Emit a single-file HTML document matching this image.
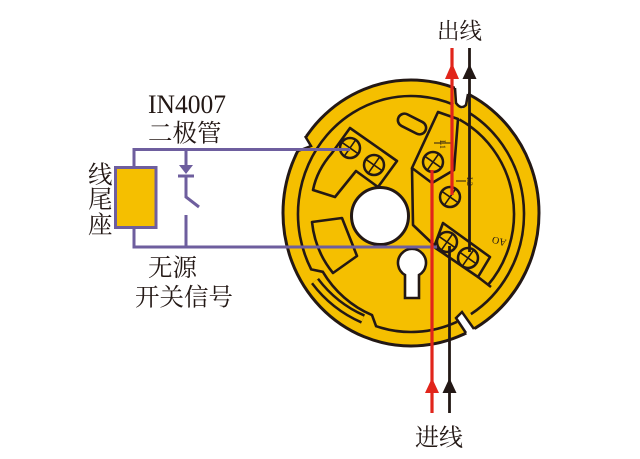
<!DOCTYPE html>
<html><head><meta charset="utf-8">
<style>
html,body{margin:0;padding:0;background:#fff;}
svg{display:block;}
.t{font-family:"Liberation Serif","Noto Serif CJK SC","Noto Serif CJK JP",serif;}
</style></head>
<body>
<svg width="640" height="459" viewBox="0 0 640 459" xmlns="http://www.w3.org/2000/svg">
<defs>
 <g id="screw">
  <circle r="10" fill="#F5BF00" stroke="#231815" stroke-width="2.5"/>
  <g transform="rotate(35)" stroke="#231815" stroke-width="1.6">
   <line x1="-9.5" y1="0" x2="9.5" y2="0"/>
   <line x1="0" y1="-9.5" x2="0" y2="9.5"/>
  </g>
 </g>
</defs>

<!-- disc -->
<ellipse cx="411" cy="213" rx="128" ry="133" fill="#F5BF00" stroke="#231815" stroke-width="3"/>

<!-- ring lines -->
<g fill="none" stroke="#231815" stroke-width="2.6">
 <path d="M469.2,112.9 A113,118 0 0 1 470.9,314.1"/>
 <path d="M457,321.8 A113,118 0 0 1 376.1,326.2 L372,315.1 A104,109 0 0 1 322.8,271.8 L311.2,269.4 A113,118 0 0 1 453.3,104.6"/>
 <path d="M459.4,119.5 A103,107 0 0 1 487.5,285.6"/>
</g>

<!-- bottom-left thin slot -->
<path d="M315,281 A120,125 0 0 0 363,319" fill="none" stroke="#231815" stroke-width="10"/>
<path d="M315,281 A120,125 0 0 0 363,319" fill="none" stroke="#F5BF00" stroke-width="5"/>

<!-- notches -->
<polygon points="455,76 455,100 458,106 462,109 466,106 468,100 468,76" fill="#fff"/>
<path d="M455,88 L456,103 Q461,110 466,105 L468,94" fill="none" stroke="#231815" stroke-width="2.5"/>
<polygon points="474,329 462,312 456,318 466,333 472,340 480,332" fill="#fff"/>
<path d="M474,329 L462,312 L456,318 L466,333" fill="none" stroke="#231815" stroke-width="2.5"/>
<polygon points="305,135 311,146 298,151 292,142" fill="#fff"/>
<path d="M305,136 L311,146 L298,151" fill="none" stroke="#231815" stroke-width="2.5"/>

<!-- inner shapes -->
<g fill="none" stroke="#231815" stroke-width="2.6" stroke-linejoin="round">
 <path d="M312,222 L342,218 L357,256 L333,273 Q315,251 312,222 Z"/>
 <path d="M350,128 L397,161 L378,187 L356,171 L335,197 L313,190 Q317,170 332,153 Z"/>
 <path d="M438,112 L458,119 L454,170 L432,183 L412,168 Z"/>
 <path d="M412,168 L413,225 L435,246"/>
 <path d="M443,223 L490,257 L478,277 L434,247 Z"/>
 <path d="M478,277 L491,287"/>
 <rect x="-15" y="-6.5" width="30" height="13" rx="6.5" transform="translate(412,124) rotate(27)"/>
</g>

<!-- keyhole & hole -->
<path d="M405,275 A14,14 0 1 1 419,275 L419,298 L405,298 Z" fill="#fff" stroke="#231815" stroke-width="2.6"/>
<circle cx="380" cy="216" r="28.5" fill="#fff" stroke="#231815" stroke-width="3"/>

<!-- screws -->
<use href="#screw" x="350" y="148"/>
<use href="#screw" x="374" y="165"/>
<use href="#screw" x="433" y="162"/>
<use href="#screw" x="450" y="197"/>
<use href="#screw" x="447" y="242"/>
<use href="#screw" x="468" y="258"/>

<!-- small labels -->
<g stroke="#231815" stroke-width="1">
 <line x1="434" y1="143" x2="452" y2="143"/>
 <line x1="456" y1="181" x2="466" y2="181"/>
</g>
<text x="0" y="0" class="t" font-size="8" fill="#231815" transform="translate(440,140) rotate(90)">L1</text>
<text x="0" y="0" class="t" font-size="8" fill="#231815" transform="translate(467,177) rotate(90)">L2</text>
<text x="0" y="0" class="t" font-size="10" fill="#231815" transform="translate(507,240) rotate(195)">AO</text>

<!-- purple circuit -->
<g stroke="#6E5E9E" stroke-width="3" fill="none">
 <line x1="132.5" y1="149.5" x2="350" y2="149.5"/>
 <line x1="132.5" y1="247" x2="437" y2="247"/>
 <line x1="134" y1="149.5" x2="134" y2="167"/>
 <line x1="134" y1="227" x2="134" y2="247"/>
 <line x1="186" y1="149.5" x2="186" y2="166"/>
 <line x1="178" y1="176" x2="194" y2="176"/>
 <polyline points="186,176 186,197 199,207"/>
 <line x1="186" y1="215" x2="186" y2="247"/>
</g>
<polygon points="179,165 193,165 186,174" fill="#6E5E9E"/>
<rect x="115.5" y="167.5" width="40.5" height="60" fill="#F5BF00" stroke="#6E5E9E" stroke-width="3"/>

<!-- wires -->
<g stroke-width="2.8">
 <line x1="469.5" y1="48" x2="469.5" y2="252" stroke="#231815"/>
 <line x1="449.5" y1="246" x2="449.5" y2="413" stroke="#231815"/>
 <line x1="452" y1="48" x2="452" y2="195" stroke="#E1251B" stroke-width="3.2"/>
 <line x1="432" y1="170" x2="432" y2="413" stroke="#E1251B" stroke-width="3.2"/>
</g>
<polygon points="452,63 445,79 459,79" fill="#E1251B"/>
<polygon points="469.5,64 462.5,79 476.5,79" fill="#231815"/>
<polygon points="432,378 425,393 439,393" fill="#E1251B"/>
<polygon points="449.5,378 442.5,393 456.5,393" fill="#231815"/>

<!-- text -->
<g fill="#231815" class="t">
 <text x="437" y="39" font-size="22.5">出线</text>
 <text x="415" y="445.5" font-size="24">进线</text>
 <text x="148" y="113" font-size="26" textLength="78" lengthAdjust="spacingAndGlyphs">IN4007</text>
 <text x="148" y="141.5" font-size="24.5">二极管</text>
 <text x="88" y="183" font-size="24.5">线</text>
 <text x="88" y="207.5" font-size="24.5">尾</text>
 <text x="88" y="233" font-size="24.5">座</text>
 <text x="148" y="276" font-size="24.5">无源</text>
 <text x="135" y="305.5" font-size="24.5">开关信号</text>
</g>
</svg>
</body></html>
